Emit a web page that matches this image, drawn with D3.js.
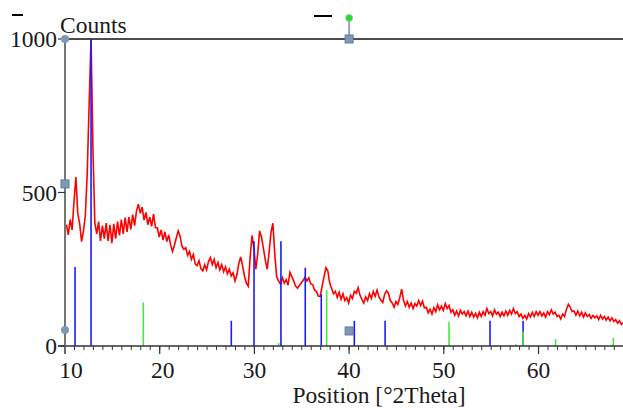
<!DOCTYPE html>
<html><head><meta charset="utf-8">
<script src="https://cdn.jsdelivr.net/npm/d3@7"></script>
<style>
html,body{margin:0;padding:0;background:#fff;}
svg text{font-family:"Liberation Serif","Times New Roman",serif;fill:#1a1a1a;}
</style></head>
<body><svg id="c" width="623" height="408"></svg>
<script>
// ---- data ----
const scanStart = 10.15;   // °2Theta of first point
const scanStep = 0.2;      // °2Theta step
const counts = [
 395,362,412,378,470,550,432,398,340,375,
 425,565,790,1000,640,402,365,405,342,392,
 350,400,342,395,335,398,350,405,360,412,
 365,418,372,420,380,428,392,440,462,432,
 452,410,435,395,420,390,430,385,385,355,
 378,345,372,340,362,330,308,328,352,375,
 358,325,315,320,295,308,282,298,268,262,
 278,252,245,265,248,275,288,265,282,255,
 272,248,265,242,258,235,250,228,238,212,
 232,268,290,262,228,205,195,290,360,320,
 250,300,375,355,318,280,250,305,370,400,
 300,225,212,202,222,205,216,198,240,226,
 212,195,188,198,205,214,224,212,222,202,
 200,182,178,162,162,195,225,255,245,205,
 188,170,178,158,175,152,170,148,158,140,
 165,155,178,172,190,165,152,140,160,148,
 170,155,178,162,182,160,150,142,168,180,
 172,148,140,126,145,135,158,185,148,130,
 145,126,140,122,138,130,148,132,146,124,
 126,108,120,104,125,112,134,118,130,116,
 138,122,132,110,118,100,114,98,116,104,
 112,98,114,96,110,94,106,92,110,96,
 112,100,122,106,112,98,118,104,110,96,
 110,98,114,100,116,104,122,106,112,96,
 104,90,100,88,106,94,110,96,112,100,
 112,98,108,94,112,102,118,104,110,96,
 100,88,104,96,120,136,126,112,114,100,
 114,98,110,94,108,96,102,90,100,92,
 98,86,100,88,96,84,94,82,92,80,
 86,74,82,70,76
];
const bluePos = [11.06,12.75,27.56,29.96,32.8,35.37,37.06,40.55,43.8,54.88,58.37];
const blueVal = [257,1000,82,341,341,255,169,82,82,82,82];
const greenPos = [18.27,32.55,37.63,50.55,57.6,58.37,61.8,67.9];
const greenVal = [142,10,182,79,6,47,22,26];
const xTickLabels = [10,20,30,40,50,60];
const yTickLabels = [0,500,1000];
const xTitle = "Position [°2Theta]";
const yTitle = "Counts";

// ---- scales ----
const svg = d3.select("#c");
const x = d3.scaleLinear().domain([10, 68.92]).range([65, 623]);
const y = d3.scaleLinear().domain([0, 1000]).range([346, 39]);
const pts = counts.map((c,i)=>({t: scanStart + i*scanStep, c}));

svg.append("defs").append("clipPath").attr("id","clip")
  .append("rect").attr("x",65).attr("y",30).attr("width",558).attr("height",316);

// top frame line at 1000
svg.append("line").attr("x1",x(10)).attr("x2",x(68.92)).attr("y1",y(1000)).attr("y2",y(1000))
  .attr("stroke","#111").attr("stroke-width",1.3);

// red pattern
svg.append("path").datum(pts).attr("clip-path","url(#clip)")
  .attr("fill","none").attr("stroke","#ff0000").attr("stroke-width",1.6)
  .attr("d", d3.line().x(d=>x(d.t)).y(d=>y(d.c)));

// reference sticks
svg.append("g").selectAll("line").data(bluePos).join("line")
  .attr("x1",d=>x(d)).attr("x2",d=>x(d)).attr("y1",y(0)).attr("y2",(d,i)=>y(blueVal[i]))
  .attr("stroke","#1a1aff").attr("stroke-width",1.6);
svg.append("g").selectAll("line").data(greenPos).join("line")
  .attr("x1",d=>x(d)).attr("x2",d=>x(d)).attr("y1",y(0)).attr("y2",(d,i)=>y(greenVal[i]))
  .attr("stroke","#44e844").attr("stroke-width",1.6);

// x axis
const xg = svg.append("g").attr("transform",`translate(0,${y(0)})`);
xg.append("line").attr("x1",58).attr("x2",623).attr("y1",0).attr("y2",0).attr("stroke","#333").attr("stroke-width",1.3);
xg.selectAll(".mn").data(d3.range(11,69)).join("line")
  .attr("x1",d=>x(d)).attr("x2",d=>x(d)).attr("y1",0).attr("y2",4).attr("stroke","#333").attr("stroke-width",1);
xg.selectAll(".mj").data(xTickLabels).join("line")
  .attr("x1",d=>x(d)).attr("x2",d=>x(d)).attr("y1",0).attr("y2",8).attr("stroke","#333").attr("stroke-width",1.2);
const xLabelShift = {10:6, 20:3};
xg.selectAll("text").data(xTickLabels).join("text")
  .attr("x",d=>x(d)+(xLabelShift[d]||0)).attr("y",32).attr("text-anchor","middle").attr("font-size",23.5).text(d=>d);

// y axis
svg.append("line").attr("x1",x(10)).attr("x2",x(10)).attr("y1",y(1000)).attr("y2",y(0)+8)
  .attr("stroke","#666").attr("stroke-width",1.8);
svg.selectAll(".yt").data(yTickLabels).join("line")
  .attr("x1",58).attr("x2",x(10)).attr("y1",d=>y(d)).attr("y2",d=>y(d)).attr("stroke","#333").attr("stroke-width",1.2);
svg.selectAll(".yl").data(yTickLabels).join("text")
  .attr("x",57).attr("y",d=>y(d)+8).attr("text-anchor","end").attr("font-size",23.5).text(d=>d);

// titles
svg.append("text").attr("x",60).attr("y",33).attr("font-size",23.5).text(yTitle);
svg.append("text").attr("x",379).attr("y",403).attr("text-anchor","middle").attr("font-size",23.5).text(xTitle);

// handles / decorations
svg.append("line").attr("x1",12).attr("x2",23).attr("y1",15).attr("y2",15).attr("stroke","#000").attr("stroke-width",2);
svg.append("line").attr("x1",314).attr("x2",332).attr("y1",16).attr("y2",16).attr("stroke","#000").attr("stroke-width",2);
svg.append("line").attr("x1",x(40)).attr("x2",x(40)).attr("y1",18).attr("y2",y(1000)).attr("stroke","#8ea4c0").attr("stroke-width",2);
svg.append("circle").attr("cx",x(40)).attr("cy",18).attr("r",3.5).attr("fill","#22dd22").attr("stroke","#8fd08f").attr("stroke-width",0.8);
const hfill="#8098b8", hstroke="#5f7ba3";
[[10,1000],[10,52]].forEach(([a,b])=>svg.append("circle").attr("cx",x(a)).attr("cy",y(b)).attr("r",4).attr("fill",hfill));
[[10,528],[40,1000],[40,49]].forEach(([a,b])=>svg.append("rect").attr("x",x(a)-4).attr("y",y(b)-4).attr("width",8).attr("height",8)
  .attr("fill",hfill).attr("stroke",hstroke).attr("stroke-width",1));
</script></body></html>
